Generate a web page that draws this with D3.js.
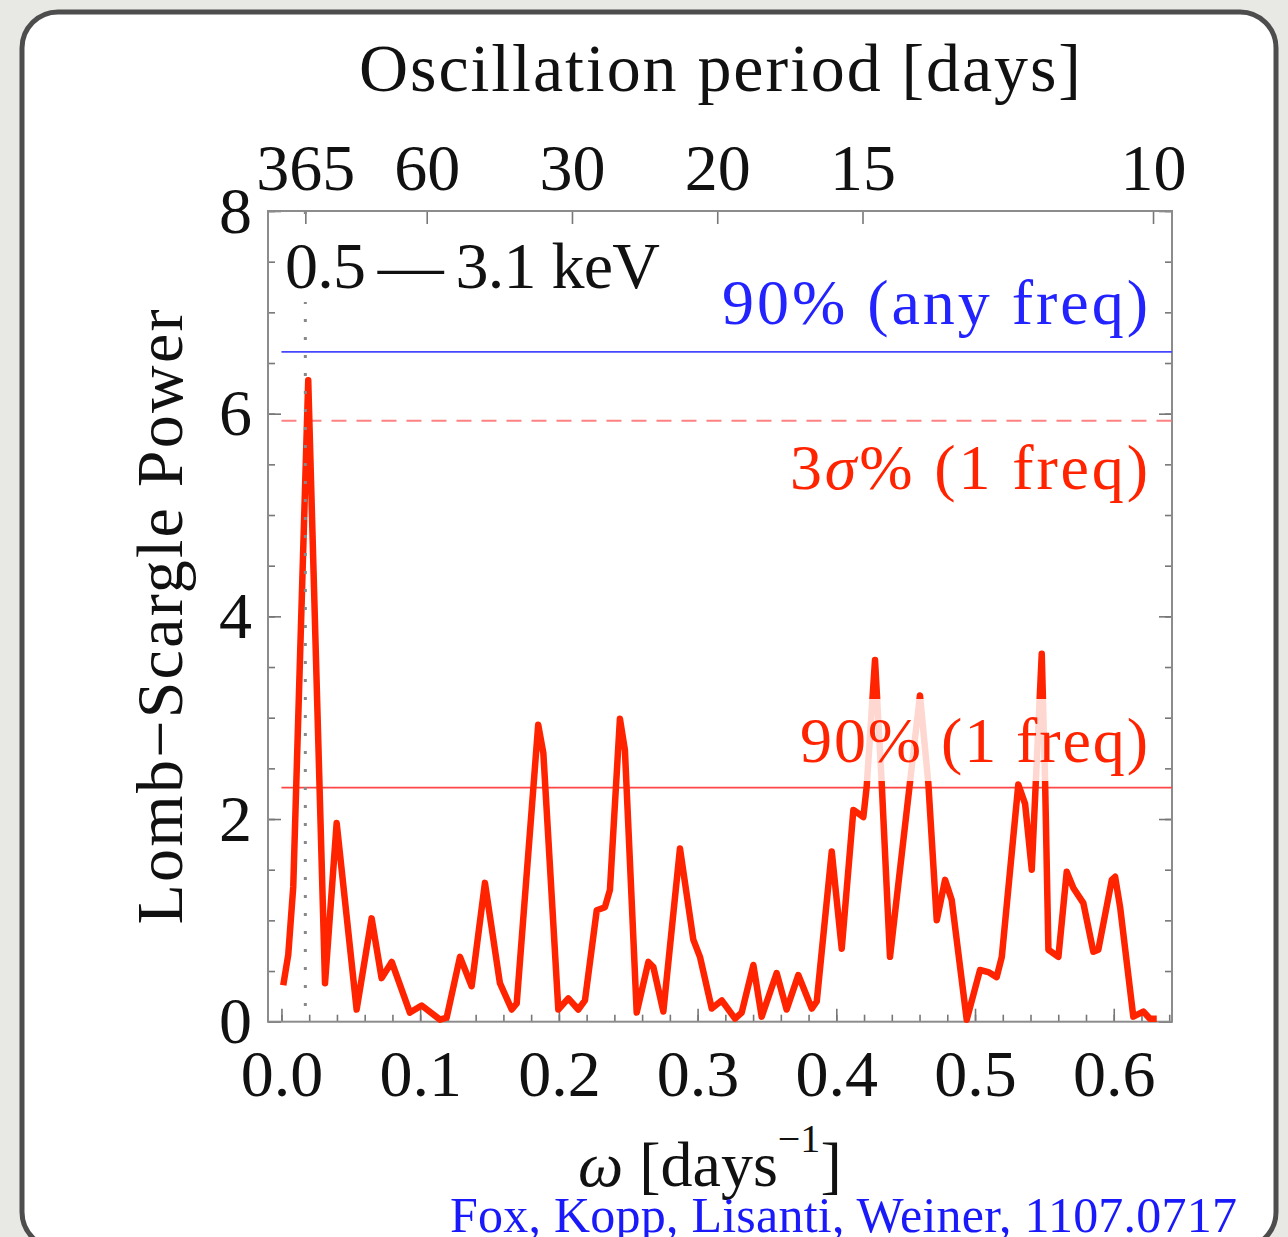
<!DOCTYPE html>
<html>
<head>
<meta charset="utf-8">
<script src="https://cdn.jsdelivr.net/npm/d3@7"></script>
<style>
    body { margin: 0; background: #e8e8e5; }
    text { font-family: "Liberation Serif", "DejaVu Serif", serif; }
</style>
</head>
<body>
<div id="chart"></div>
<script>
//frequency values (omega, days^-1)
var omega = [0.0013, 0.0049, 0.0085, 0.0193, 0.0314, 0.0398, 0.0542, 0.0650, 0.0722, 0.0795,
    0.0926, 0.1011, 0.1143, 0.1191, 0.1287, 0.1371, 0.1467, 0.1575, 0.1660, 0.1696,
    0.1851, 0.1888, 0.1996, 0.2068, 0.2140, 0.2188, 0.2273, 0.2332, 0.2368, 0.2440,
    0.2476, 0.2561, 0.2645, 0.2681, 0.2753, 0.2873, 0.2969, 0.3017, 0.3102, 0.3174,
    0.3270, 0.3318, 0.3402, 0.3462, 0.3570, 0.3642, 0.3726, 0.3823, 0.3859, 0.3967,
    0.4039, 0.4123, 0.4195, 0.4219, 0.4279, 0.4327, 0.4387, 0.4603, 0.4663, 0.4724,
    0.4784, 0.4832, 0.4940, 0.5036, 0.5096, 0.5156, 0.5193, 0.5312, 0.5361, 0.5409,
    0.5481, 0.5505, 0.5529, 0.5601, 0.5661, 0.5709, 0.5781, 0.5853, 0.5889, 0.5986,
    0.6010, 0.6046, 0.6141, 0.6213, 0.6261, 0.6310];

//lomb-scargle power at each frequency
var power = [0.36, 0.66, 1.33, 6.33, 0.38, 1.96, 0.12, 1.02, 0.43, 0.59,
    0.09, 0.16, 0.02, 0.04, 0.64, 0.35, 1.37, 0.38, 0.12, 0.18,
    2.93, 2.65, 0.12, 0.23, 0.12, 0.21, 1.10, 1.13, 1.30, 2.99,
    2.68, 0.09, 0.59, 0.54, 0.10, 1.71, 0.81, 0.64, 0.13, 0.21,
    0.03, 0.09, 0.56, 0.05, 0.48, 0.12, 0.46, 0.13, 0.20, 1.68,
    0.72, 2.09, 2.02, 2.32, 3.57, 2.36, 0.64, 3.22, 2.36, 1.00,
    1.40, 1.20, 0.02, 0.51, 0.49, 0.44, 0.64, 2.34, 2.15, 1.50,
    3.63, 2.38, 0.71, 0.64, 1.48, 1.32, 1.17, 0.69, 0.71, 1.40,
    1.43, 1.13, 0.05, 0.10, 0.03, 0.03];

//significance thresholds
var anyFreq90 = 6.61;
var oneFreq3sigma = 5.93;
var oneFreq90 = 2.31;

//tick values
var xTicks = [0, 0.1, 0.2, 0.3, 0.4, 0.5, 0.6];
var xMinorTicks = d3.range(0, 0.641, 0.02);
var yTicks = [0, 2, 4, 6, 8];
var yMinorTicks = d3.range(0, 8.01, 0.5);
var periodTicks = [365, 60, 30, 20, 15, 10];
var yearPeriod = 365;

//svg size and plot frame
var svgW = 1288;
var svgH = 1237;
var frame = { left: 268, right: 1172, top: 211, bottom: 1021.7 };

var svg = d3.select("#chart").append("svg")
    .attr("width", svgW)
    .attr("height", svgH);

//page background and rounded card
svg.append("rect")
    .attr("width", svgW)
    .attr("height", svgH)
    .attr("fill", "#e8e8e5");

svg.append("rect")
    .attr("x", 22)
    .attr("y", 12)
    .attr("width", 1254)
    .attr("height", 1236)
    .attr("rx", 36)
    .attr("fill", "white")
    .attr("stroke", "#4d4d4d")
    .attr("stroke-width", 5);

//scales
var xScale = d3.scaleLinear()
    .domain([-0.0097, 0.642])
    .range([frame.left, frame.right]);

var yScale = d3.scaleLinear()
    .domain([0, 8])
    .range([frame.bottom, frame.top]);

var tickColor = "#777";

//style an axis group
function styleAxis(g, fontSize) {
    g.attr("font-family", "Liberation Serif, serif")
        .attr("font-size", fontSize);
    g.select(".domain").remove();
    g.selectAll(".tick line").attr("stroke", tickColor).attr("stroke-width", 1.6);
    g.selectAll(".tick text").attr("fill", "#111");
}

//minor ticks first (no labels)
var xMinor = svg.append("g")
    .attr("transform", `translate(0, ${frame.bottom})`)
    .call(d3.axisBottom(xScale).tickValues(xMinorTicks).tickSize(-7).tickFormat(""));
styleAxis(xMinor, 10);

var yMinorLeft = svg.append("g")
    .attr("transform", `translate(${frame.left}, 0)`)
    .call(d3.axisLeft(yScale).tickValues(yMinorTicks).tickSize(-7).tickFormat(""));
styleAxis(yMinorLeft, 10);

var yMinorRight = svg.append("g")
    .attr("transform", `translate(${frame.right}, 0)`)
    .call(d3.axisRight(yScale).tickValues(yMinorTicks).tickSize(-7).tickFormat(""));
styleAxis(yMinorRight, 10);

//major bottom axis
var xAxis = svg.append("g")
    .attr("transform", `translate(0, ${frame.bottom})`)
    .call(d3.axisBottom(xScale).tickValues(xTicks).tickSize(-13).tickPadding(27).tickFormat(d3.format(".1f")));
styleAxis(xAxis, 66);

//major left axis
var yAxis = svg.append("g")
    .attr("transform", `translate(${frame.left}, 0)`)
    .call(d3.axisLeft(yScale).tickValues(yTicks).tickSize(-13).tickPadding(16).tickFormat(d3.format("d")));
styleAxis(yAxis, 66);

//major right ticks
var yAxisRight = svg.append("g")
    .attr("transform", `translate(${frame.right}, 0)`)
    .call(d3.axisRight(yScale).tickValues(yTicks).tickSize(-13).tickFormat(""));
styleAxis(yAxisRight, 10);

//top axis in oscillation period, omega = 2 pi / T
var topAxis = svg.append("g")
    .attr("transform", `translate(0, ${frame.top})`)
    .call(d3.axisTop(xScale)
        .tickValues(periodTicks.map(p => 2 * Math.PI / p))
        .tickSize(-13)
        .tickPadding(21)
        .tickFormat((d, i) => periodTicks[i]));
styleAxis(topAxis, 66);

//plot frame
svg.append("rect")
    .attr("x", frame.left)
    .attr("y", frame.top)
    .attr("width", frame.right - frame.left)
    .attr("height", frame.bottom - frame.top)
    .attr("fill", "none")
    .attr("stroke", "#8c8c8c")
    .attr("stroke-width", 2);

//threshold lines
svg.append("line")
    .attr("x1", xScale(0)).attr("x2", frame.right)
    .attr("y1", yScale(anyFreq90)).attr("y2", yScale(anyFreq90))
    .attr("stroke", "rgb(70,70,255)")
    .attr("stroke-width", 1.8);

svg.append("line")
    .attr("x1", xScale(0)).attr("x2", frame.right)
    .attr("y1", yScale(oneFreq3sigma)).attr("y2", yScale(oneFreq3sigma))
    .attr("stroke", "rgb(255,130,130)")
    .attr("stroke-width", 2)
    .attr("stroke-dasharray", "15,10");

svg.append("line")
    .attr("x1", xScale(0)).attr("x2", frame.right)
    .attr("y1", yScale(oneFreq90)).attr("y2", yScale(oneFreq90))
    .attr("stroke", "rgb(255,70,70)")
    .attr("stroke-width", 1.8);

//power curve
var line = d3.line()
    .x((d, i) => xScale(omega[i]))
    .y(d => yScale(d));

svg.append("path")
    .datum(power)
    .attr("d", line)
    .attr("fill", "none")
    .attr("stroke", "rgb(255,35,0)")
    .attr("stroke-width", 6.5)
    .attr("stroke-linejoin", "round");

//dotted one-year line
svg.append("line")
    .attr("x1", xScale(2 * Math.PI / yearPeriod)).attr("x2", xScale(2 * Math.PI / yearPeriod))
    .attr("y1", frame.top).attr("y2", frame.bottom)
    .attr("stroke", "#888")
    .attr("stroke-width", 3)
    .attr("stroke-dasharray", "3,15");

//energy band label with white box
svg.append("rect")
    .attr("x", 279).attr("y", 224)
    .attr("width", 388).attr("height", 78)
    .attr("fill", "white");

svg.append("text")
    .attr("x", 285).attr("y", 288)
    .attr("font-size", 66)
    .attr("fill", "#111")
    .attr("textLength", 375)
    .attr("lengthAdjust", "spacing")
    .text("0.5\u2009\u2014\u20093.1 keV");

//threshold labels
svg.append("text")
    .attr("x", 1148).attr("y", 324)
    .attr("text-anchor", "end")
    .attr("font-size", 64)
    .attr("fill", "rgb(35,35,255)")
    .attr("textLength", 426)
    .attr("lengthAdjust", "spacing")
    .text("90% (any freq)");

var sigmaLabel = svg.append("text")
    .attr("x", 1148).attr("y", 489)
    .attr("text-anchor", "end")
    .attr("font-size", 64)
    .attr("fill", "rgb(255,35,0)")
    .attr("textLength", 358)
    .attr("lengthAdjust", "spacing");
sigmaLabel.append("tspan").text("3");
sigmaLabel.append("tspan").attr("font-style", "italic").text("\u03c3");
sigmaLabel.append("tspan").text("% (1 freq)");

//translucent box behind the 90% (1 freq) label
svg.append("rect")
    .attr("x", 796).attr("y", 699)
    .attr("width", 356).attr("height", 82)
    .attr("fill", "white")
    .attr("opacity", 0.82);

svg.append("text")
    .attr("x", 1148).attr("y", 762)
    .attr("text-anchor", "end")
    .attr("font-size", 64)
    .attr("fill", "rgb(255,35,0)")
    .attr("textLength", 348)
    .attr("lengthAdjust", "spacing")
    .text("90% (1 freq)");

//axis titles
svg.append("text")
    .attr("x", (frame.left + frame.right) / 2).attr("y", 91)
    .attr("text-anchor", "middle")
    .attr("font-size", 68)
    .attr("fill", "#111")
    .attr("textLength", 722)
    .attr("lengthAdjust", "spacing")
    .text("Oscillation period [days]");

svg.append("text")
    .attr("transform", "translate(182, 617) rotate(-90)")
    .attr("text-anchor", "middle")
    .attr("font-size", 66)
    .attr("fill", "#111")
    .attr("textLength", 615)
    .attr("lengthAdjust", "spacing")
    .text("Lomb\u2212Scargle Power");

var xLabel = svg.append("text")
    .attr("x", 578).attr("y", 1186)
    .attr("font-size", 64)
    .attr("fill", "#111");
xLabel.append("tspan").attr("font-style", "italic").text("\u03c9");
xLabel.append("tspan").text(" [days");
xLabel.append("tspan").attr("font-size", 40).attr("dy", -34).text("\u22121");
xLabel.append("tspan").attr("dy", 34).text("]");

//citation
svg.append("text")
    .attr("x", 450).attr("y", 1232)
    .attr("font-size", 50)
    .attr("fill", "rgb(25,25,250)")
    .attr("textLength", 787)
    .attr("lengthAdjust", "spacing")
    .text("Fox, Kopp, Lisanti, Weiner, 1107.0717");
</script>
</body>
</html>
